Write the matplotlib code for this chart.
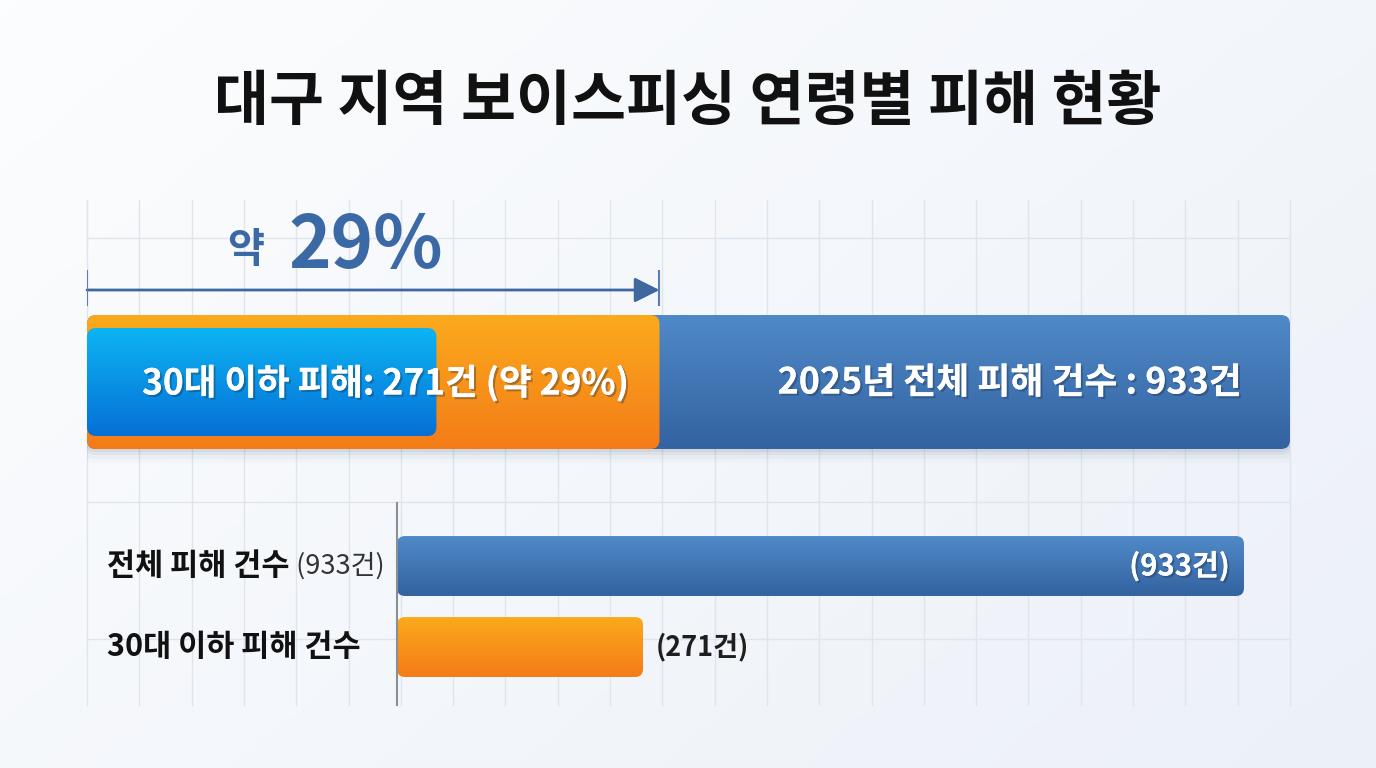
import numpy as np
import matplotlib.pyplot as plt
from matplotlib.patches import FancyBboxPatch
from matplotlib.colors import LinearSegmentedColormap
from matplotlib.transforms import blended_transform_factory
import matplotlib.patheffects as pe

plt.rcParams['font.family'] = ['Noto Sans CJK KR', 'DejaVu Sans']

# ---- data ----
year = 2025
total = 933          # 전체 피해 건수
under30 = 271        # 30대 이하 피해 건수
share_pct = 29       # 약 29%
highlight = 444      # orange band in the top bar
cats = ['전체 피해 건수', '30대 이하 피해 건수']
vals = [total, under30]

W, H = 1376, 768
fig = plt.figure(figsize=(W / 100, H / 100), dpi=100)


def fx(x):
    return x / W


def fy(y):
    return 1 - y / H


def box(x0, y0, x1, y1):
    return [x0 / W, 1 - y1 / H, (x1 - x0) / W, (y1 - y0) / H]


def rbar(ax, x0, y0, w, h, c0, c1, r_px, kx, ky, z):
    # rounded bar with vertical gradient, y0 = visual top
    p = FancyBboxPatch((x0, y0), w, h,
                       boxstyle=f'round,pad=0,rounding_size={r_px * kx}',
                       mutation_aspect=ky / kx, fc='none', ec='none', zorder=z)
    ax.add_patch(p)
    cm = LinearSegmentedColormap.from_list('g', [c0, c1])
    im = ax.imshow(np.linspace(0, 1, 64).reshape(-1, 1), cmap=cm,
                   extent=(x0, x0 + w, y0 + h, y0), aspect='auto',
                   interpolation='bilinear', zorder=z)
    im.set_clip_path(p)
    return p


shadow = [pe.withSimplePatchShadow(offset=(1.5, -1.5), shadow_rgbFace='#1a2a40', alpha=0.35), pe.Normal()]

# ---- background + grid ----
bg = fig.add_axes([0, 0, 1, 1], zorder=0)
gx, gy = np.meshgrid(np.linspace(0, 1, 200), np.linspace(0, 1, 120))
bg.imshow(0.6 * gx + 0.4 * gy, cmap=LinearSegmentedColormap.from_list('bg', ['#fcfdfe', '#ecf1f8']),
          extent=(0, W, H, 0), aspect='auto')
for x in np.linspace(87, 1290, 24):
    bg.plot([x, x], [200, 705], color='#dfe5ec', lw=1)
for y in [238, 502, 639]:
    bg.plot([87, 1290], [y, y], color='#dfe5ec', lw=1)
bg.set_xlim(0, W)
bg.set_ylim(H, 0)
bg.axis('off')

fig.text(0.5, fy(103), '대구 지역 보이스피싱 연령별 피해 현황', ha='center', va='center',
         fontsize=43, weight='heavy', color='#111111')

# ---- top stacked bar ----
ax1 = fig.add_axes(box(87, 190, 1290, 470), zorder=2)
ax1.set_xlim(0, total)
ax1.set_ylim(470, 190)
ax1.axis('off')
kx1 = total / 1203

for off, a in [(3, 0.06), (6, 0.05), (10, 0.035), (14, 0.02)]:
    ax1.add_patch(FancyBboxPatch((-off * kx1 * 0.3, 315 + off), total + off * kx1 * 0.6, 134,
                                 boxstyle=f'round,pad=0,rounding_size={10 * kx1}',
                                 mutation_aspect=1 / kx1, fc='#1d3557', ec='none', alpha=a, zorder=1))
rbar(ax1, 0, 315, total, 134, '#5089c8', '#3363a0', 9, kx1, 1, 2)
rbar(ax1, 0, 315, highlight, 134, '#fbaa1c', '#f47c18', 9, kx1, 1, 3)
rbar(ax1, 0, 328, under30, 108, '#0db4f3', '#0570d6', 9, kx1, 1, 4)

ax1.annotate('', xy=(highlight, 290), xytext=(0, 290),
             arrowprops=dict(arrowstyle='-|>,head_length=0.9,head_width=0.45', color='#3f67a0',
                             lw=2, shrinkA=0, shrinkB=0, mutation_scale=17), zorder=5)
ax1.vlines([0, highlight], 270, 306, color='#5a7fae', lw=1.5, zorder=5)

fig.text(fx(288), fy(247), f'{share_pct}%', ha='left', va='center', fontsize=52,
         weight='heavy', color='#3b69a5', zorder=6)
fig.text(fx(264), fy(251), '약', ha='right', va='center', fontsize=29,
         weight='heavy', color='#3b69a5', zorder=6)

fig.text(fx(142), fy(383), f'30대 이하 피해: {under30}건 (약 {share_pct}%)', ha='left', va='center',
         fontsize=25.5, weight='heavy', color='white', path_effects=shadow, zorder=6)
fig.text(fx(1242), fy(383), f'{year}년 전체 피해 건수 : {total}건', ha='right', va='center',
         fontsize=25.8, weight='heavy', color='white', path_effects=shadow, zorder=6)

# ---- bottom bar chart ----
ax2 = fig.add_axes(box(397, 503, 1244, 705), zorder=2)
ax2.set_xlim(0, total)
ax2.set_ylim(1.716, -0.778)
ax2.patch.set_alpha(0)
for s in ['top', 'right', 'bottom']:
    ax2.spines[s].set_visible(False)
ax2.spines['left'].set_color('#8a8f96')
ax2.spines['left'].set_linewidth(1.5)
ax2.spines['left'].set_zorder(5)
ax2.set_xticks([])
ax2.set_yticks([])
kx2, ky2 = total / 847, 1 / 81

bar_cols = [('#5089c8', '#3363a0'), ('#fbaa1c', '#f47c18')]
for i, (v, (c0, c1)) in enumerate(zip(vals, bar_cols)):
    rbar(ax2, 0, i - 0.37, v, 0.74, c0, c1, 8, kx2, ky2, 2)
ax2.set_xlim(0, total)
ax2.set_ylim(1.716, -0.778)

trans = blended_transform_factory(fig.transFigure, ax2.transData)
t0 = ax2.text(fx(107), 0, cats[0], transform=trans, ha='left', va='center',
              fontsize=22, weight='heavy', color='#111111')
ax2.annotate(f' ({total}건)', xy=(1, 0.5), xycoords=t0, ha='left', va='center',
             fontsize=19.5, color='#333333')
ax2.text(fx(107), 1, cats[1], transform=trans, ha='left', va='center',
         fontsize=22, weight='heavy', color='#111111')

ax2.annotate(f'({total}건)', xy=(total, 0), xytext=(-14 * 0.72, 0), textcoords='offset points',
             ha='right', va='center', fontsize=21, weight='heavy', color='white',
             path_effects=shadow, zorder=6)
ax2.annotate(f'({under30}건)', xy=(under30, 1), xytext=(13 * 0.72, 0), textcoords='offset points',
             ha='left', va='center', fontsize=19.5, weight='heavy', color='#1e1e1e', zorder=6)

fig.savefig('out.png', dpi=100)
